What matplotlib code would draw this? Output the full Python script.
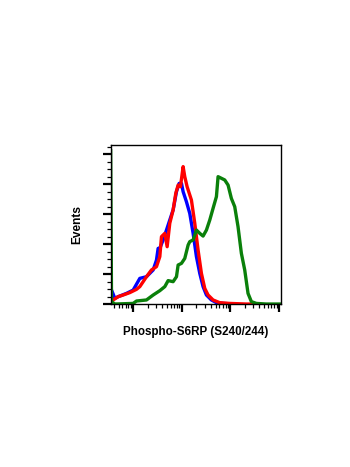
import numpy as np
import matplotlib.pyplot as plt
from matplotlib.ticker import FixedLocator, LogLocator, NullFormatter

plt.rcParams['font.family'] = ['Liberation Sans', 'DejaVu Sans']

# histogram traces: log10 fluorescence vs events
blue_log = [0.554, 0.623, 0.691, 0.863, 1.0, 1.137, 1.274, 1.412, 1.480, 1.514, 1.549, 1.617,
            1.686, 1.754, 1.823, 1.892, 1.947, 1.995, 2.029, 2.097, 2.166, 2.235, 2.303, 2.372,
            2.440, 2.509, 2.612, 2.715, 2.852, 3.058]
blue_evt = [9.3, 3.8, 4.9, 7.1, 9.3, 17.1, 18.2, 22.7, 29.3, 37.1, 37.1, 42.7,
            49.3, 56.0, 62.7, 74.9, 80.4, 80.4, 74.9, 68.2, 60.4, 47.1, 31.6, 20.4,
            11.6, 6.0, 2.7, 0.9, 0.4, 0.0]

red_log = [0.588, 0.691, 0.794, 0.931, 1.069, 1.137, 1.206, 1.274, 1.377, 1.480, 1.549, 1.583,
           1.652, 1.700, 1.754, 1.823, 1.878, 1.926, 1.974, 2.029, 2.063, 2.111, 2.200, 2.269,
           2.337, 2.406, 2.475, 2.543, 2.646, 2.783, 2.989, 3.332, 3.606]
red_evt = [2.7, 4.9, 6.0, 7.6, 9.8, 11.6, 14.9, 18.2, 22.7, 24.9, 31.6, 44.9,
           47.1, 38.2, 53.8, 62.7, 73.8, 79.3, 78.2, 91.6, 84.9, 78.2, 69.3, 53.8,
           36.0, 20.4, 10.4, 6.0, 2.7, 0.9, 0.4, 0.0, 0.0]

green_log = [0.536, 0.554, 0.623, 1.0, 1.069, 1.274, 1.412, 1.549, 1.652, 1.720, 1.823, 1.892,
             1.926, 1.995, 2.063, 2.132, 2.166, 2.235, 2.303, 2.372, 2.440, 2.509, 2.578, 2.646,
             2.715, 2.749, 2.818, 2.886, 2.955, 3.023, 3.092, 3.160, 3.229, 3.298, 3.366, 3.435,
             3.538, 3.743, 4.045]
green_evt = [102.2, 1.6, 0.0, 0.4, 2.0, 2.7, 6.0, 8.9, 11.6, 15.6, 14.9, 18.2,
             26.0, 27.1, 30.4, 39.3, 41.6, 42.7, 49.3, 47.1, 45.3, 49.3, 56.0, 63.8,
             71.6, 84.9, 83.8, 82.7, 79.3, 70.4, 64.9, 51.6, 33.8, 22.7, 7.1, 1.6,
             0.4, 0.0, 0.0]

fig = plt.figure(figsize=(3.5, 4.67), dpi=100)
ax = fig.add_axes([0.316, 0.349, 0.4875, 0.3405])

ax.plot(10 ** np.array(blue_log), blue_evt, color='#0000ff', lw=2.4)
ax.plot(10 ** np.array(red_log), red_evt, color='#ff0000', lw=2.4)
ax.plot(10 ** np.array(green_log), green_evt, color='#0a800a', lw=2.4)

ax.set_xscale('log')
ax.set_xlim(10 ** 0.535, 10 ** 4.05)
ax.set_ylim(0, 106)

ax.xaxis.set_major_locator(FixedLocator([10, 100, 1000, 10000]))
ax.xaxis.set_minor_locator(LogLocator(base=10, subs=np.arange(2, 10)))
ax.xaxis.set_minor_formatter(NullFormatter())
ax.yaxis.set_major_locator(FixedLocator([0, 20, 40, 60, 80, 100]))
ax.yaxis.set_minor_locator(FixedLocator(np.arange(0, 106, 5)))
ax.set_xticklabels([])
ax.set_yticklabels([])
ax.tick_params(which='major', direction='out', length=6, width=1.6, color='black')
ax.tick_params(which='minor', direction='out', length=3, width=0.9, color='black')
ax.tick_params(top=False, right=False)

for sp in ax.spines.values():
    sp.set_linewidth(1.0)

ax.set_xlabel('Phospho-S6RP (S240/244)', fontsize=8.4, fontweight='bold', labelpad=6)
ax.set_ylabel('Events', fontsize=8.6, fontweight='bold', labelpad=10)

fig.savefig('out.png', dpi=100)
